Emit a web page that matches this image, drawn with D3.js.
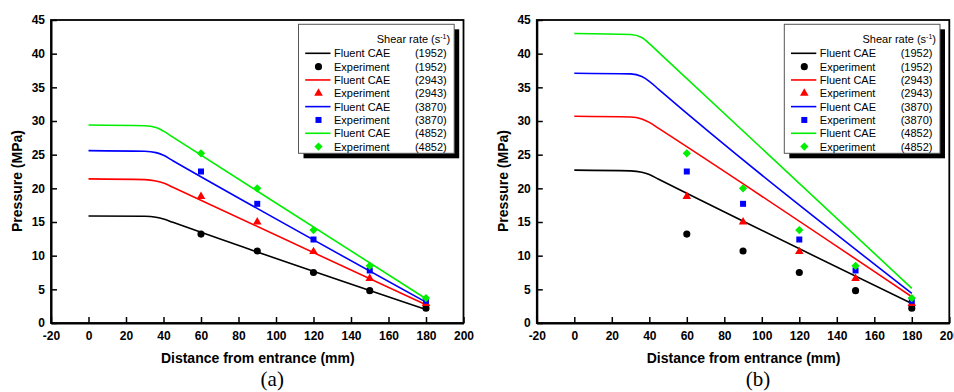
<!DOCTYPE html>
<html>
<head>
<meta charset="utf-8">
<script src="https://cdn.jsdelivr.net/npm/d3@7"></script>
<style>
  body { margin: 0; background: #fff; }
  svg { display: block; }
</style>
</head>
<body>
<div id="chart"></div>
<script>
const WIDTH = 954;
const HEIGHT = 392;

// axis ticks
const xTicks = [-20, 0, 20, 40, 60, 80, 100, 120, 140, 160, 180, 200];
const yTicks = [0, 5, 10, 15, 20, 25, 30, 35, 40, 45];

// series
const shearRates = ["1952", "2943", "3870", "4852"];
const colors = ["#000000", "#ff0000", "#0000ff", "#00ee00"];
const shapes = ["circle", "triangle", "square", "diamond"];

// Fluent CAE simulation lines
const fluentX = [0, 30, 36, 40, 45, 180];
const fluentA1952 = [15.9, 15.85, 15.7, 15.45, 14.95, 2.0];
const fluentA2943 = [21.4, 21.3, 21.1, 20.8, 20.15, 2.7];
const fluentA3870 = [25.6, 25.5, 25.3, 24.9, 24.1, 3.1];
const fluentA4852 = [29.4, 29.3, 29.05, 28.5, 27.6, 3.6];
const fluentB1952 = [22.7, 22.6, 22.4, 22.05, 21.35, 2.9];
const fluentB2943 = [30.7, 30.6, 30.3, 29.8, 28.9, 3.9];
const fluentB3870 = [37.1, 37.0, 36.6, 35.9, 34.7, 4.4];
const fluentB4852 = [43.0, 42.85, 42.4, 41.5, 40.2, 5.15];

// Experiment points (same in both panels)
const expX = [60, 90, 120, 150, 180];
const exp1952 = [13.2, 10.7, 7.5, 4.8, 2.2];
const exp2943 = [18.8, 15.0, 10.6, 6.6, 2.9];
const exp3870 = [22.5, 17.7, 12.4, 7.8, 3.3];
const exp4852 = [25.2, 20.0, 13.8, 8.5, 3.7];

const experiments = [exp1952, exp2943, exp3870, exp4852];

let svg = d3.select("#chart")
  .append("svg")
    .attr("width", WIDTH)
    .attr("height", HEIGHT)
    .style("font-family", "Arial, 'Liberation Sans', sans-serif");

function symbolPath(shape) {
  if (shape === "circle") return d3.symbol().type(d3.symbolCircle).size(40)();
  if (shape === "triangle") return d3.symbol().type(d3.symbolTriangle).size(32)();
  return d3.symbol().type(d3.symbolSquare).size(shape === "diamond" ? 34 : 36)();
}

function drawMarker(g, shape, cx, cy, color) {
  g.append("path")
    .attr("d", symbolPath(shape))
    .attr("transform", "translate(" + cx + "," + cy + ")" + (shape === "diamond" ? " rotate(45)" : ""))
    .attr("fill", color);
}

function drawPanel(left, right, fluent, label) {
  const top = 20, bottom = 323;

  let x = d3.scaleLinear().domain([-20, 200]).range([left, right]);
  let y = d3.scaleLinear().domain([0, 45]).range([bottom, top]);

  let g = svg.append("g");

  // frame
  g.append("rect")
    .attr("x", left).attr("y", top)
    .attr("width", right - left).attr("height", bottom - top)
    .attr("fill", "none").attr("stroke", "#000").attr("stroke-width", 1.8);

  // x axis
  let xa = g.append("g")
    .attr("transform", "translate(0," + bottom + ")")
    .call(d3.axisBottom(x).tickValues(xTicks).tickFormat(d => String(d))
      .tickSizeInner(-6).tickSizeOuter(0).tickPadding(8));
  // y axis
  let ya = g.append("g")
    .attr("transform", "translate(" + left + ",0)")
    .call(d3.axisLeft(y).tickValues(yTicks).tickFormat(d => String(d))
      .tickSizeInner(-6).tickSizeOuter(0).tickPadding(6));

  [xa, ya].forEach(a => {
    a.select(".domain").attr("stroke-width", 2);
    a.selectAll(".tick line").attr("stroke-width", 1.5);
    a.selectAll("text")
      .attr("font-size", 12)
      .attr("font-weight", "bold")
      .attr("fill", "#000")
      .style("font-family", "Arial, 'Liberation Sans', sans-serif");
  });

  // axis titles
  g.append("text")
    .attr("x", (left + right) / 2 + 0.5)
    .attr("y", 363)
    .attr("text-anchor", "middle")
    .attr("font-size", 14)
    .attr("font-weight", "bold")
    .text("Distance from entrance (mm)");

  g.append("text")
    .attr("transform", "translate(" + (left - 29) + ",181) rotate(-90)")
    .attr("text-anchor", "middle")
    .attr("font-size", 14)
    .attr("font-weight", "bold")
    .text("Pressure (MPa)");

  // panel label
  g.append("text")
    .attr("x", (left + right) / 2 + 15)
    .attr("y", 386)
    .attr("text-anchor", "middle")
    .attr("font-size", 21)
    .style("font-family", "'Times New Roman', 'Liberation Serif', serif")
    .text(label);

  // lines
  let line = d3.line()
    .x((d, i) => x(fluentX[i]))
    .y(d => y(d))
    .curve(d3.curveMonotoneX);

  fluent.forEach((vals, k) => {
    g.append("path")
      .datum(vals)
      .attr("d", line)
      .attr("fill", "none")
      .attr("stroke", colors[k])
      .attr("stroke-width", 1.6);
  });

  // experiment markers
  experiments.forEach((vals, k) => {
    vals.forEach((v, i) => drawMarker(g, shapes[k], x(expX[i]), y(v), colors[k]));
  });

  // legend
  const lx = left + 247.5, ly = 24.3, lw = 155.7, lh = 129;
  g.append("rect")
    .attr("x", lx + 5).attr("y", ly + 5)
    .attr("width", lw).attr("height", lh)
    .attr("fill", "#000");
  g.append("rect")
    .attr("x", lx).attr("y", ly)
    .attr("width", lw).attr("height", lh)
    .attr("fill", "#fff").attr("stroke", "#555").attr("stroke-width", 1);

  let head = g.append("text")
    .attr("x", lx + lw - 4)
    .attr("y", ly + 19)
    .attr("text-anchor", "end")
    .attr("font-size", 11);
  head.append("tspan").text("Shear rate (s");
  head.append("tspan").attr("font-size", 7).attr("dy", -4).text("-1");
  head.append("tspan").attr("dy", 4).text(")");

  for (let k = 0; k < 4; k++) {
    for (let j = 0; j < 2; j++) {
      let cy = ly + 29 + (k * 2 + j) * 13.33;
      if (j === 0) {
        g.append("line")
          .attr("x1", lx + 6.7).attr("x2", lx + 32)
          .attr("y1", cy).attr("y2", cy)
          .attr("stroke", colors[k]).attr("stroke-width", 1.6);
      } else {
        drawMarker(g, shapes[k], lx + 20, cy, colors[k]);
      }
      g.append("text")
        .attr("x", lx + 35.5).attr("y", cy + 4)
        .attr("font-size", 11)
        .text(j === 0 ? "Fluent CAE" : "Experiment");
      g.append("text")
        .attr("x", lx + lw - 7.5).attr("y", cy + 4)
        .attr("text-anchor", "end")
        .attr("font-size", 11)
        .text("(" + shearRates[k] + ")");
    }
  }
}

drawPanel(51, 463.5, [fluentA1952, fluentA2943, fluentA3870, fluentA4852], "(a)");
drawPanel(536.8, 949.3, [fluentB1952, fluentB2943, fluentB3870, fluentB4852], "(b)");
</script>
</body>
</html>
